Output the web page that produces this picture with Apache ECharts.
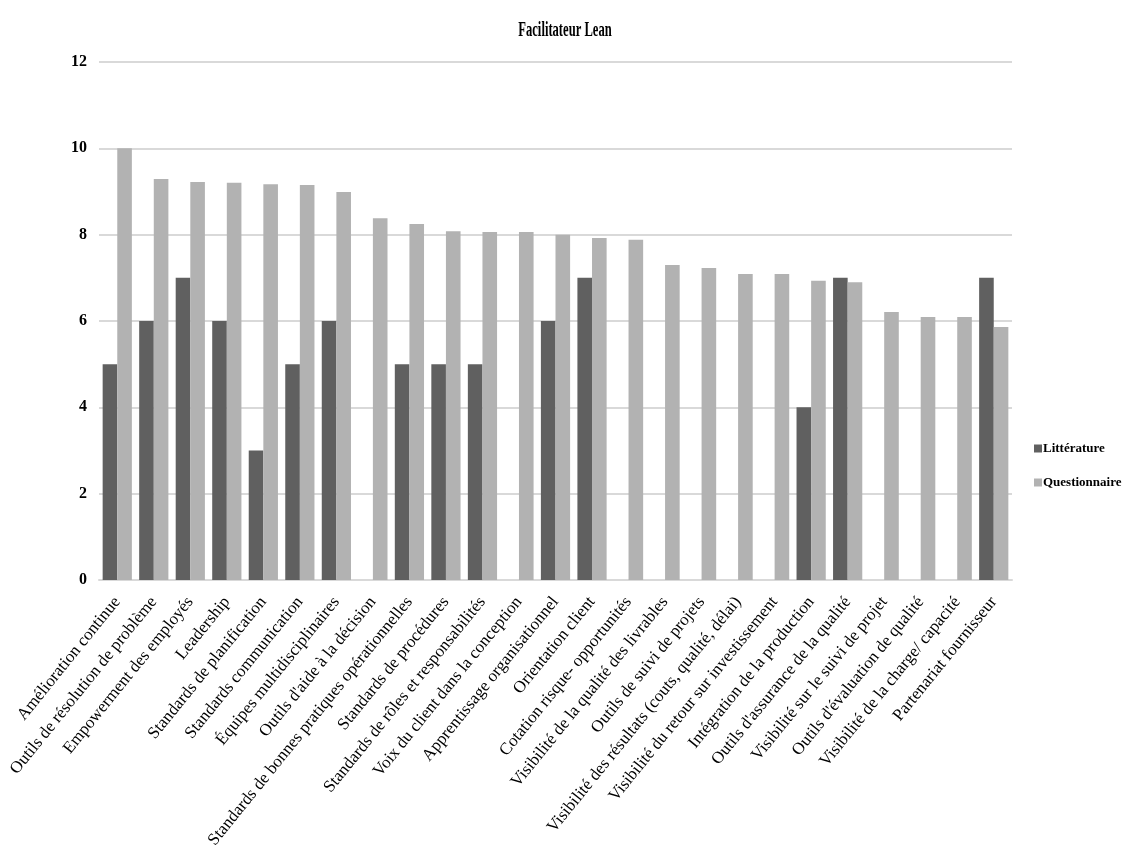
<!DOCTYPE html>
<html>
<head>
<meta charset="utf-8">
<script src="https://cdn.jsdelivr.net/npm/echarts@6/dist/echarts.min.js"></script>
<style>html,body{margin:0;padding:0;background:#fff}#c{width:1130px;height:861px}</style>
</head>
<body>
<div id="c"></div>
<script>
const categories = [
  "Amélioration continue",
  "Outils de résolution de problème",
  "Empowerment des employés",
  "Leadership",
  "Standards de planification",
  "Standards communication",
  "Équipes multidisciplinaires",
  "Outils d'aide à la décision",
  "Standards de bonnes pratiques opérationnelles",
  "Standards de procédures",
  "Standards de rôles et responsabilités",
  "Voix du client dans la conception",
  "Apprentissage organisationnel",
  "Orientation client",
  "Cotation risque- opportunités",
  "Visibilité de la qualité des livrables",
  "Outils de suivi de projets",
  "Visibilité des résultats (couts, qualité, délai)",
  "Visibilité du retour sur investissement",
  "Intégration de la production",
  "Outils d'assurance de la qualité",
  "Visibilité sur le suivi de projet",
  "Outils d'évaluation de qualité",
  "Visibilité de la charge/ capacité",
  "Partenariat fournisseur"
];
const litterature = [5, 6, 7, 6, 3, 5, 6, 0, 5, 5, 5, 0, 6, 7, 0, 0, 0, 0, 0, 4, 7, 0, 0, 0, 7];
const questionnaire = [10, 9.29, 9.22, 9.2, 9.17, 9.15, 8.99, 8.38, 8.25, 8.08, 8.06, 8.06, 8.0, 7.92, 7.88, 7.3, 7.23, 7.09, 7.09, 6.93, 6.9, 6.21, 6.09, 6.09, 5.86];
const yTicks = { min: 0, max: 12, interval: 2 };
const titleText = 'Facilitateur Lean';

const FONT = "'Liberation Serif', 'DejaVu Serif', serif";
const chart = echarts.init(document.getElementById('c'), null, { renderer: 'canvas' });
chart.setOption({
  backgroundColor: '#ffffff',
  animation: false,
  graphic: [{
    type: 'text',
    x: 565,
    y: 31,
    scaleX: 0.6,
    style: {
      text: titleText,
      textAlign: 'center',
      textVerticalAlign: 'middle',
      font: "bold 21px 'Liberation Serif', serif",
      fill: '#000'
    }
  }],
  legend: {
    orient: 'vertical',
    left: 1029,
    top: 437,
    itemWidth: 8,
    itemHeight: 8,
    itemGap: 21,
    icon: 'rect',
    textStyle: { fontFamily: FONT, fontSize: 13, fontWeight: 'bold', color: '#000', padding: [0, 0, 0, -4] },
    data: ['Littérature', 'Questionnaire']
  },
  grid: { left: 99, right: 118, top: 62, bottom: 281, containLabel: false },
  xAxis: {
    type: 'category',
    data: categories,
    axisLine: { show: true, lineStyle: { color: '#d9d9d9', width: 2 } },
    axisTick: { show: false },
    axisLabel: {
      interval: 0,
      rotate: 51,
      margin: 19,
      fontFamily: FONT,
      fontSize: 17,
      color: '#000'
    }
  },
  yAxis: {
    type: 'value',
    min: yTicks.min,
    max: yTicks.max,
    interval: yTicks.interval,
    axisLine: { show: false },
    axisTick: { show: false },
    splitLine: { lineStyle: { color: '#d9d9d9', width: 2 } },
    axisLabel: { fontFamily: FONT, fontSize: 16, fontWeight: 'bold', color: '#000', margin: 12 }
  },
  series: [
    {
      name: 'Littérature',
      type: 'bar',
      data: litterature,
      itemStyle: { color: '#606060' },
      barGap: '0%',
      barCategoryGap: '20%'
    },
    {
      name: 'Questionnaire',
      type: 'bar',
      data: questionnaire,
      itemStyle: { color: '#b2b2b2' },
      barGap: '0%',
      barCategoryGap: '20%'
    }
  ]
});
</script>
</body>
</html>
